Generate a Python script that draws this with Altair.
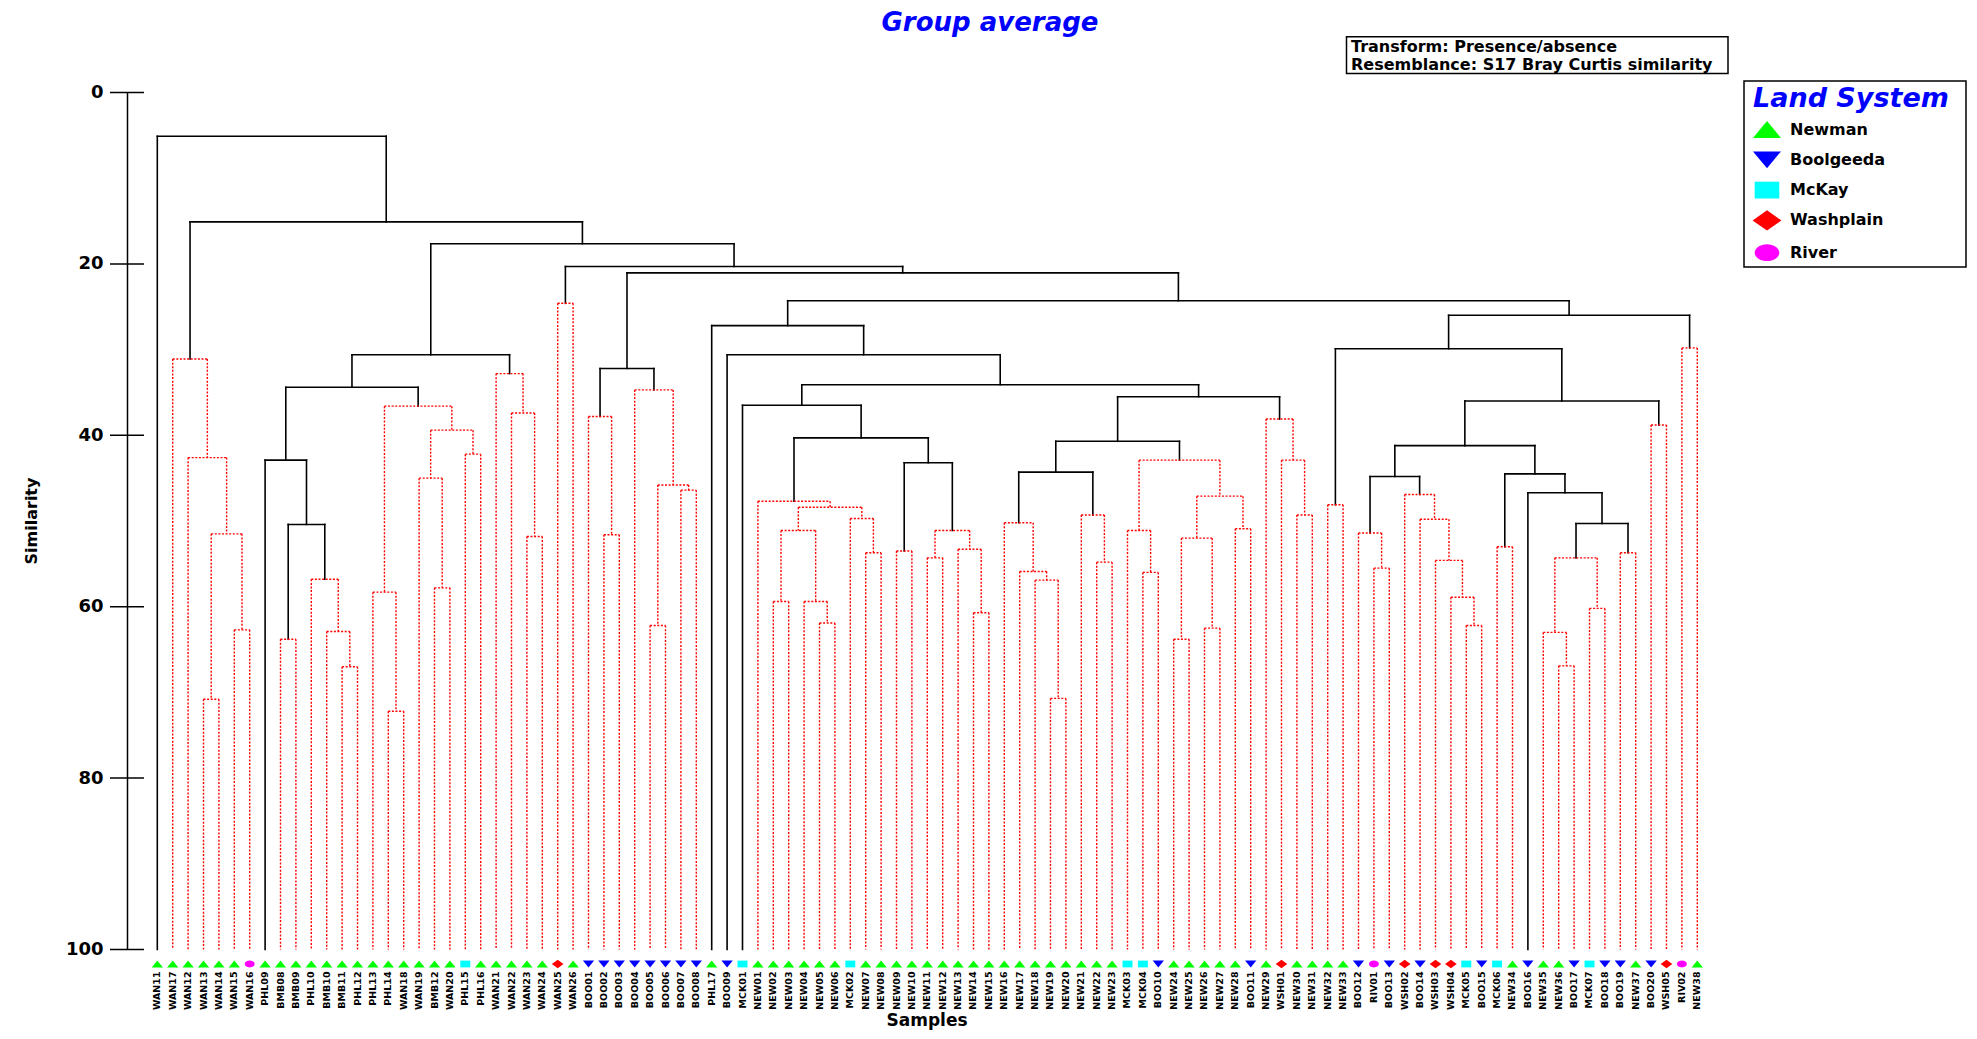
import altair as alt
import pandas as pd

# ---------------- text ----------------
title_text = "Group average"
box_lines = ["Transform: Presence/absence", "Resemblance: S17 Bray Curtis similarity"]
legend_title = "Land System"
x_title = "Samples"
y_title = "Similarity"

# ---------------- land systems ----------------
systems = ["Newman", "Boolgeeda", "McKay", "Washplain", "River"]
system_colors = ["#00FF00", "#0000FF", "#00FFFF", "#FF0000", "#FF00FF"]
code_to_system = {"G": "Newman", "B": "Boolgeeda", "C": "McKay", "R": "Washplain", "M": "River"}

# land system of each leaf, left to right
leaf_codes = ("GGGGGG" "M" "GGGGGGGGGGGGG" "C" "GGGGG" "R" "G" "BBBBBBBB" "G" "B" "C"
              "GGGGGG" "C" "GGGGGGGGGGGGGGGGG" "CC" "B" "GGGGG" "B" "G" "R" "GGGG" "B" "M"
              "B" "R" "B" "RR" "C" "B" "C" "G" "B" "GG" "B" "C" "BB" "G" "B" "R" "M" "G")
assert len(leaf_codes) == 101

leaf_labels = ["WAN11", "WAN17", "WAN12", "WAN13", "WAN14", "WAN15", "WAN16", "PHL09", "BMB08",
               "BMB09", "PHL10", "BMB10", "BMB11", "PHL12", "PHL13", "PHL14", "WAN18", "WAN19",
               "BMB12", "WAN20", "PHL15", "PHL16", "WAN21", "WAN22", "WAN23", "WAN24", "WAN25",
               "WAN26", "BOO01", "BOO02", "BOO03", "BOO04", "BOO05", "BOO06", "BOO07", "BOO08",
               "PHL17", "BOO09", "MCK01", "NEW01", "NEW02", "NEW03", "NEW04", "NEW05", "NEW06",
               "MCK02", "NEW07", "NEW08", "NEW09", "NEW10", "NEW11", "NEW12", "NEW13", "NEW14",
               "NEW15", "NEW16", "NEW17", "NEW18", "NEW19", "NEW20", "NEW21", "NEW22", "NEW23",
               "MCK03", "MCK04", "BOO10", "NEW24", "NEW25", "NEW26", "NEW27", "NEW28", "BOO11",
               "NEW29", "WSH01", "NEW30", "NEW31", "NEW32", "NEW33", "BOO12", "RIV01", "BOO13",
               "WSH02", "BOO14", "WSH03", "WSH04", "MCK05", "BOO15", "MCK06", "NEW34", "BOO16",
               "NEW35", "NEW36", "BOO17", "MCK07", "BOO18", "BOO19", "NEW37", "BOO20", "WSH05",
               "RIV02", "NEW38"]
assert len(leaf_labels) == 101

# ---------------- linkage (left, right, similarity, inside SIMPROF group) ----------------
merge_left = [4, 6, "n0", 3, 2, 9, 13, 12, 11, "n5", 8, 16, 15, 19, 18, 21, "n14", "n12", "n10",
              25, 24, 23, "n18", 27, 30, 29, 33, 35, "n26", 32, "n25", 41, 44, 43, "n31", 47, 46,
              "n34", 40, 49, 51, 54, 53, "n40", "n39", "n38", 39, 59, 58, 57, 56, 62, 61, "n50",
              65, 64, 67, 69, "n56", 71, "n58", "n55", "n53", 75, 74, 73, "n62", "n46", 38, 37,
              77, 80, 79, 86, 85, 84, 83, 82, "n72", 88, 92, 91, 94, "n81", 96, "n83", 90, "n79",
              "n78", 98, "n88", "n70", 100, "n91", "n69", "n30", "n23", "n22", "n4", 1]
merge_right = [5, 7, "n1", "n2", "n3", 10, 14, "n6", "n7", "n8", "n9", 17, "n11", 20, "n13", 22,
               "n15", "n16", "n17", 26, "n19", "n20", "n21", 28, 31, "n24", 34, 36, "n27", "n28",
               "n29", 42, 45, "n32", "n33", 48, "n35", "n36", "n37", 50, 52, 55, "n41", "n42",
               "n43", "n44", "n45", 60, "n47", "n48", "n49", 63, "n51", "n52", 66, "n54", 68, 70,
               "n57", 72, "n59", "n60", "n61", 76, "n63", "n64", "n65", "n66", "n67", "n68", 78,
               81, "n71", 87, "n73", "n74", "n75", "n76", "n77", 89, 93, "n80", 95, "n82", 97,
               "n84", "n85", "n86", "n87", 99, "n89", "n90", 101, "n92", "n93", "n94", "n95",
               "n96", "n97", "n98"]
merge_sim = [70.8, 62.7, 51.5, 42.6, 31.1, 63.8, 67.0, 62.9, 56.8, 50.4, 42.9, 72.2, 58.3, 57.8,
             45.0, 42.2, 39.4, 36.6, 34.4, 51.8, 37.4, 32.8, 30.6, 24.6, 51.6, 37.8, 62.2, 46.4,
             45.8, 34.7, 32.2, 59.4, 61.9, 59.4, 51.1, 53.7, 49.7, 48.4, 47.7, 53.5, 54.3, 60.7,
             53.3, 51.1, 43.2, 40.3, 36.5, 70.7, 56.9, 55.9, 50.2, 54.8, 49.3, 44.3, 56.0, 51.1,
             63.8, 62.5, 52.0, 50.9, 47.1, 42.9, 40.7, 49.3, 42.9, 38.1, 35.5, 34.1, 30.6, 27.2,
             48.1, 55.5, 51.4, 62.2, 58.9, 54.6, 49.8, 46.9, 44.8, 53.0, 66.9, 63.0, 60.2, 54.3,
             53.7, 50.3, 46.7, 44.5, 41.2, 38.8, 36.0, 29.9, 29.8, 26.0, 24.3, 21.05, 20.3,
             17.65, 15.1, 5.1]
merge_red = [1, 1, 1, 1, 1, 1, 1, 1, 1, 0, 0, 1, 1, 1, 1, 1, 1, 1, 0, 1, 1, 1, 0, 1, 1, 1, 1, 1,
             1, 1, 0, 1, 1, 1, 1, 1, 1, 1, 1, 1, 1, 1, 1, 1, 0, 0, 0, 1, 1, 1, 1, 1, 1, 0, 1, 1,
             1, 1, 1, 1, 1, 1, 0, 1, 1, 1, 0, 0, 0, 0, 1, 1, 1, 1, 1, 1, 1, 1, 0, 1, 1, 1, 1, 1,
             1, 0, 0, 0, 0, 1, 0, 0, 1, 0, 0, 0, 0, 0, 0, 0]
assert len(merge_left) == len(merge_right) == len(merge_sim) == len(merge_red) == 100

y_ticks = [0, 20, 40, 60, 80, 100]

# ---------------- build segments ----------------
pos = {i: float(i) for i in range(1, 102)}
hgt = {i: 100.0 for i in range(1, 102)}
segs = []
for k, (l, r, s, red) in enumerate(zip(merge_left, merge_right, merge_sim, merge_red)):
    name = f"n{k}"
    xl, xr = pos[l], pos[r]
    pos[name] = (xl + xr) / 2
    hgt[name] = s
    c = "red" if red else "black"
    segs.append(dict(x=xl, x2=xr, y=s, y2=s, c=c))
    segs.append(dict(x=xl, x2=xl, y=s, y2=hgt[l], c=c))
    segs.append(dict(x=xr, x2=xr, y=s, y2=hgt[r], c=c))
seg_df = pd.DataFrame(segs)

leaf_df = pd.DataFrame({
    "pos": list(range(1, 102)),
    "label": leaf_labels,
    "system": [code_to_system[c] for c in leaf_codes],
})

# ---------------- styling ----------------
FONT = "DejaVu Sans"
W, H = 1601, 857
xs = alt.Scale(domain=[-0.968, 102.994], nice=False, zero=False)
ys = alt.Scale(domain=[0, 100], reverse=True, nice=False, zero=False)

shape_paths = [
    "M-1,0.6L1,0.6L0,-0.6Z",
    "M-1,-0.6L1,-0.6L0,0.6Z",
    "M-0.88,-0.6L0.88,-0.6L0.88,0.6L-0.88,0.6Z",
    "M-1.03,0L0,-0.73L1.03,0L0,0.73Z",
    "M-0.88,0C-0.88,-0.331,-0.486,-0.6,0,-0.6C0.486,-0.6,0.88,-0.331,0.88,0"
    "C0.88,0.331,0.486,0.6,0,0.6C-0.486,0.6,-0.88,0.331,-0.88,0Z",
]

y_axis = alt.Axis(values=y_ticks, ticks=False, grid=False, labelPadding=24,
                  labelFont=FONT, labelFontSize=18, labelFontWeight="bold", labelColor="black",
                  domainColor="black", domainWidth=1.5,
                  title=y_title, titleFont=FONT, titleFontSize=16, titleFontWeight="bold",
                  titleColor="black", titleX=-96, titleY=428, titleAngle=270,
                  titleAlign="center", titleBaseline="middle")

black = alt.Chart(seg_df).transform_filter(alt.datum.c == "black").mark_rule(
    color="black", strokeWidth=1.6, strokeCap="square").encode(
    x=alt.X("x:Q", scale=xs, axis=None), x2="x2:Q",
    y=alt.Y("y:Q", scale=ys, axis=y_axis), y2="y2:Q")

red = alt.Chart(seg_df).transform_filter(alt.datum.c == "red").mark_rule(
    color="#FF0000", strokeWidth=1.4, strokeDash=[2, 1.6]).encode(
    x=alt.X("x:Q", scale=xs, axis=None), x2="x2:Q",
    y=alt.Y("y:Q", scale=ys, axis=y_axis), y2="y2:Q")

ticks = alt.Chart(pd.DataFrame({"y": y_ticks})).mark_rule(color="black", strokeWidth=1.5).encode(
    y=alt.Y("y:Q", scale=ys, axis=y_axis), x=alt.value(-17), x2=alt.value(17))

leg = alt.Legend(title=legend_title, orient="none", legendX=1626, legendY=-7, padding=0,
                 titleFont=FONT, titleFontSize=27, titleFontStyle="italic", titleFontWeight="bold",
                 titleColor="#0000FF", titlePadding=3, titleLimit=400,
                 labelFont=FONT, labelFontSize=16, labelFontWeight="bold", labelColor="black",
                 labelOffset=9, symbolSize=784, symbolStrokeWidth=0, rowPadding=7.3)

pts = alt.Chart(leaf_df).mark_point(filled=True, size=128, opacity=1, strokeWidth=0).encode(
    x=alt.X("pos:Q", scale=xs, axis=None),
    y=alt.value(871.5),
    color=alt.Color("system:N", scale=alt.Scale(domain=systems, range=system_colors), legend=leg),
    shape=alt.Shape("system:N", scale=alt.Scale(domain=systems, range=shape_paths), legend=leg),
)

labels = alt.Chart(leaf_df).mark_text(angle=270, align="right", baseline="middle", font=FONT,
                                      fontSize=9.5, fontWeight="bold", color="black").encode(
    x=alt.X("pos:Q", scale=xs, axis=None), y=alt.value(879), text="label:N")

one = pd.DataFrame({"t": [0]})


def note(text, x, y, size, align="center", baseline="middle", color="black", style="normal"):
    return alt.Chart(pd.DataFrame({"t": [text]})).mark_text(
        font=FONT, fontSize=size, fontStyle=style, fontWeight="bold", color=color,
        align=align, baseline=baseline).encode(x=alt.value(x), y=alt.value(y), text="t:N")


title = note(title_text, 863, -70, 26, color="#0000FF", style="italic")
xtitle = note(x_title, 800, 937, 17, baseline="bottom")

box = alt.Chart(one).mark_rect(fill="white", stroke="black", strokeWidth=1.5).encode(
    x=alt.value(1219.5), x2=alt.value(1601), y=alt.value(-55.8), y2=alt.value(-19))
box_t1 = note(box_lines[0], 1224, -45.5, 16, align="left")
box_t2 = note(box_lines[1], 1224, -28, 16, align="left")

legend_box = alt.Chart(one).mark_rect(fillOpacity=0, stroke="black", strokeWidth=1.5).encode(
    x=alt.value(1617), x2=alt.value(1839), y=alt.value(-11.5), y2=alt.value(174.5))

chart = alt.layer(black, red, ticks, pts, labels, title, xtitle, box, box_t1, box_t2,
                  legend_box).properties(
    width=W, height=H,
    padding={"left": 119, "top": 84.5, "right": 241, "bottom": 81},
    autosize=alt.AutoSizeParams(type="none"),
    background="white",
).configure_view(stroke=None)

chart.save("out.html", embed_options={"renderer": "svg", "actions": False})
